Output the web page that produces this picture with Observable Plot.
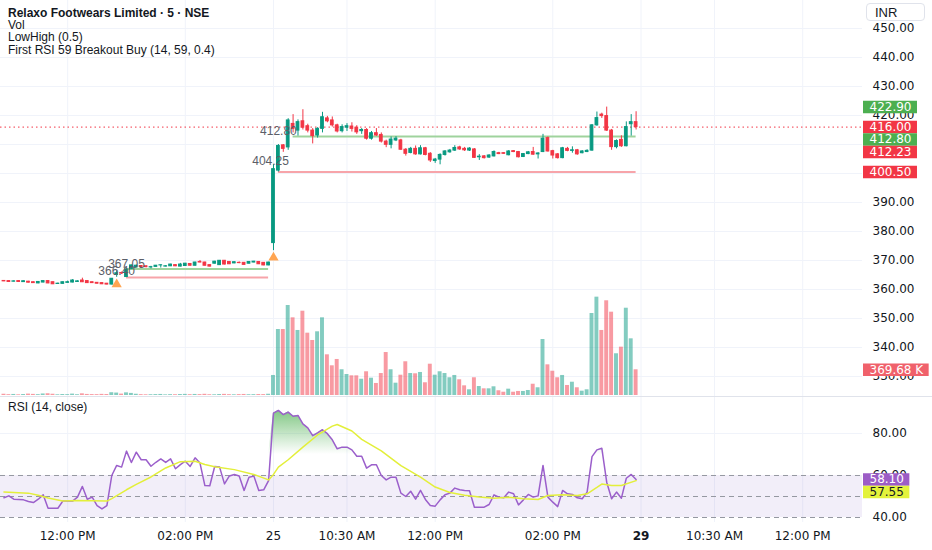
<!DOCTYPE html>
<html><head><meta charset="utf-8">
<script src="https://cdn.jsdelivr.net/npm/d3@7"></script>
<script src="https://cdn.jsdelivr.net/npm/@observablehq/plot@0.6"></script>
<style>
html,body{margin:0;padding:0;background:#fff;}
#chart{position:relative;width:932px;height:550px;overflow:hidden;background:#fff;font-family:"Liberation Sans",Arial,sans-serif;color:#131722;}
#chart .layer{position:absolute;}
.legend{position:absolute;left:8px;top:6.5px;font-size:12px;line-height:12.4px;white-space:nowrap;}
.legend .t{font-weight:bold;}
.rsiTitle{position:absolute;left:8px;top:401px;font-size:12px;line-height:12px;}
.inr{position:absolute;left:866px;top:3px;width:59px;height:18px;border:1px solid #e0e3eb;border-radius:4px;font-size:13px;line-height:18px;box-sizing:border-box;padding-left:8px;}
.sep{position:absolute;left:0;top:396px;width:932px;height:1px;background:#e0e3eb;}
</style></head><body><div id="chart"></div><script>
// ---------- DATA ----------
const day1Start = 20;      // first visible 5-min bar of day 1 (bar 0 = 09:15)
const barsPerDay = 75;
// Day 1 (24th), bars 20..74
const d1Open  = [362.95,362.9,362.7,362.9,362.55,362.7,362.5,362.1,362.4,362.9, 362.5,361.9,361.95,362.3,362.4,362.6,363.1,362.9,362.5,362.3, 362.2,362.0,361.7,365.0,365.7,364.3,367.0,367.6,368.1,368.0, 367.6,367.8,368.3,367.9,368.0,368.4,367.9,368.1,368.8,368.2, 369.5,369.3,368.4,368.9,368.4,369.9,369.5,369.0,369.2,369.2, 368.9,369.3,369.5,369.2,368.3];
const d1High  = [363.1,363.0,363.0,363.0,362.95,362.8,362.6,362.7,363.0,363.0, 362.6,362.2,362.6,362.9,363.4,363.0,363.9,363.0,362.6,362.4, 362.3,362.1,363.8,366.4,366.0,367.0,368.4,368.4,368.2,368.1, 368.0,368.3,368.5,368.2,368.7,368.5,369.0,369.0,368.9,369.4, 370.0,369.4,368.5,369.7,370.0,370.0,369.6,369.5,369.5,369.3, 369.6,369.7,369.6,369.3,369.4];
const d1Low   = [362.7,362.5,362.6,362.5,362.45,362.3,362.1,362.0,362.3,362.0, 361.7,361.8,361.9,362.2,362.3,362.5,362.4,362.1,362.1,361.9, 361.7,361.6,361.6,364.2,365.2,364.15,366.9,367.5,367.6,367.5, 367.1,367.7,367.4,367.8,367.9,367.9,367.8,368.0,368.1,368.1, 369.2,368.1,367.8,368.8,368.3,368.5,368.6,368.9,368.9,368.4, 368.8,369.2,368.6,368.2,368.2];
const d1Close = [362.8,362.6,362.8,362.6,362.85,362.35,362.2,362.6,362.9,362.1, 361.8,362.0,362.5,362.5,363.1,362.8,362.5,362.2,362.2,362.0, 361.8,361.7,363.7,365.6,365.5,366.9,368.3,368.2,367.8,367.7, 367.7,368.2,368.35,368.0,368.6,368.0,368.6,368.9,368.2,369.3, 369.3,368.2,367.9,369.6,369.9,368.6,368.7,369.4,369.1,368.5, 369.5,369.6,368.7,368.3,369.3];
// Day 2 (25th), bars 0..74
const d2Open  = [376.0,401.0,409.7,409.0,417.1,414.8,418.0,416.3,414.8,413.1, 415.4,419.0,418.3,416.6,414.6,415.8,416.2,415.8,414.6,415.0, 412.0,413.9,413.3,411.0,409.9,411.4,411.4,408.2,407.1,408.5, 406.6,408.7,406.8,404.3,404.8,406.4,407.3,407.9,409.0,408.5, 407.9,408.3,405.6,405.9,405.5,405.9,407.0,407.0,406.3,407.7, 407.4,405.7,406.7,407.4,406.6,407.4,412.2,407.7,406.6,405.3, 408.5,407.8,408.0,407.0,407.4,407.9,416.6,420.3,419.8,414.8, 409.1,411.6,409.4,417.0,417.7];
const d2High  = [403.0,410.0,410.0,418.9,420.3,418.5,422.0,417.0,415.5,415.8, 421.1,419.7,419.5,417.0,416.8,417.2,417.5,416.5,415.5,415.5, 414.5,415.5,414.0,411.5,412.6,412.7,411.8,408.6,409.0,409.5, 409.6,409.0,407.2,405.2,406.8,407.9,408.3,409.6,409.4,409.0, 408.9,408.6,406.5,406.2,406.5,407.8,407.3,407.2,407.9,407.9, 407.6,406.9,407.6,409.0,407.2,413.5,412.6,408.0,406.9,409.0, 409.0,409.2,408.3,407.9,408.2,416.9,421.2,420.8,422.9,415.2, 411.6,413.0,417.8,420.3,421.3];
const d2Low   = [373.4,400.5,407.3,408.0,414.0,412.9,415.0,414.0,410.2,412.2, 414.0,417.5,416.0,414.0,414.0,414.5,414.3,413.5,413.5,411.5, 411.5,412.8,410.5,408.9,408.5,411.0,408.0,406.0,406.8,406.3, 406.4,406.1,403.8,403.5,403.0,406.0,407.0,407.6,408.0,407.6, 407.6,405.2,404.5,405.0,405.2,405.7,406.5,406.6,406.1,407.2, 405.4,405.5,406.5,406.3,405.0,407.2,407.4,405.0,405.0,405.1, 407.5,407.0,406.3,406.8,407.2,407.7,416.3,419.0,414.5,408.0, 408.5,409.0,409.2,412.9,415.0];
const d2Close = [401.5,409.5,408.5,418.3,415.4,417.7,415.8,414.8,412.9,415.4, 419.4,418.0,416.6,414.5,416.0,416.3,415.4,414.2,415.0,412.0, 413.9,413.1,411.0,409.9,411.7,412.0,408.2,406.8,408.5,406.6, 408.7,406.4,404.5,404.8,406.4,407.6,407.9,408.8,408.3,408.0, 408.6,405.4,405.8,405.3,406.2,407.4,406.7,406.8,407.6,407.4, 405.6,406.7,407.3,406.5,406.9,412.0,407.6,406.2,405.3,408.7, 407.8,408.0,406.6,407.6,407.8,416.6,419.1,419.8,414.8,409.1, 411.2,409.4,416.0,417.7,416.0];
// Volume (thousands)
const d1Vol = [18,12,15,10,14,20,16,12,22,25, 18,10,14,12,20,11,24,15,13,12, 16,14,40,35,20,38,30,18,12,10, 11,13,15,9,12,11,14,16,12,15, 13,17,11,10,14,16,12,10,13,15, 11,12,14,13,18];
const d2Vol = [288,949,949,1294,1117,935,1212,896,791,916, 1117,585,427,518,370,302,283,283,234,341, 249,173,316,618,370,177,292,485,316,312, 331,183,450,292,341,316,255,288,226,139, 82,255,129,96,96,125,68,47,91,47, 58,58,72,162,111,805,441,349,255,288, 144,191,111,62,82,1179,1414,935,1362,1198, 600,695,1255,815,369.68];
// RSI (14, close)
const d1Rsi = [49.4,50.3,48.7,48.6,48.4,47.6,47.1,48.7,50.8,44.4, 44.4,44.4,47.8,47.8,47.8,49.7,54.8,48.7,49.7,45.7, 44.1,45.7,60,64.8,64,71.6,66.2,71.1,67.5,67.5, 64.4,66.3,67.9,66.2,67.9,63.2,65.2,66.8,64.3,68.4, 65.9,55.2,55.1,64.3,64,56,59.8,60.5,59.8,52.9, 59.2,59.7,52.9,53.2,57.6];
const d2Rsi = [89.7,91,89,90.2,88.2,88.6,84.6,82.7,79,80.3, 81.8,79.9,77.0,72.7,73.5,73.5,72.2,69.2,69.2,63.5, 65.1,65.1,60,57.9,59.2,59.2,51.6,50,52.5,48.7, 52.9,48.6,45.7,45.4,48.4,50.8,51.6,54,53.2,52.9, 52.7,44.9,44.9,44.9,46.2,50.8,49.7,49.4,52.1,51.3, 46,48.4,51,49.7,50.3,64.8,49.7,47.3,45.2,52.9, 51.3,51,49.4,48.9,52.1,69,72.2,73,56.8,48.9, 52.1,49.2,58.7,60.5,58.1];
// RSI moving average, read at these bar positions (continuous bar index)
const rsiMaBar = [20,25,27,29,32,35,41,42,45,47,50,53,56,59,61,63,67,71,74,75,76,78,81,84,87,88,91,93,97,101,105,108,111,114,117,120,123,126,129,131,134,137,139,141,142,144,146,149];
const rsiMaVal = [52.1,51.6,50.6,49.3,47.9,48.1,47.8,49.0,53.2,55.8,59.3,63.6,66.6,66.8,65.2,64.2,62.8,60.5,57.9,60.5,64,67.5,73.5,79.3,83.5,84.3,81.2,77.2,71.7,64.7,59.2,54.5,51.9,50.6,49.8,49.2,49.6,48.9,48.6,50.5,50.8,50.5,51.3,54.3,55.9,55.2,55.2,57.55];
// LowHigh levels
const levelValues = [367.05, 364.15, 412.80, 400.50];
const levelFrom   = [45, 45, 79, 76];
const levelTo     = [74, 74, 149, 149];
const levelKind   = ["high", "low", "high", "low"];
// On-chart value labels
const annoText  = ["366.40", "367.05", "404.25", "412.80"];
const annoBar   = [43, 45, 74.4, 76];
const annoPrice = [366.40, 367.05, 404.25, 412.80];
const annoKind  = ["low", "high", "low", "high"];
// Breakout buy signals (bar index)
const buyBars = [43, 75];
// Axis ticks
const priceTicks = [330,340,350,360,370,380,390,400,410,420,430,440,450];
const rsiTicks = [80, 60, 40];
const rsiLevels = [60, 50, 40];
const timeTickBars   = [33, 57, 75, 90, 108, 132, 150, 165, 183];
const timeTickLabels = ["12:00 PM","02:00 PM","25","10:30 AM","12:00 PM","02:00 PM","29","10:30 AM","12:00 PM"];
const boldTimeLabels = ["29"];
// Price-scale tags
const priceTagValues = [422.90, 416.00, 412.80, 412.23, 400.50];
const priceTagKind   = ["up", "down", "up", "down", "down"];
const volTagValue = 369.68;
const rsiTagValues = [58.10, 57.55];

// ---------- BUILD ----------
const UP = "#089981", DOWN = "#f23645";
const W = 932, AXIS_W = 70, PRICE_H = 396, RSI_H = 125, TIME_H = 28;
const xDomain = [19.29, 195.2];
const yPriceDomain = [323.1, 459.66];
const rsiDomain = [37.62, 97.14];
const volDomain = [0, 5680];
const GRID = "#f0f3fa";
const TAG_H = 12.5;

const bars = [];
d1Open.forEach((o, i) => bars.push({g: day1Start + i, o, h: d1High[i], l: d1Low[i], c: d1Close[i], v: d1Vol[i], rsi: d1Rsi[i]}));
d2Open.forEach((o, i) => bars.push({g: barsPerDay + i, o, h: d2High[i], l: d2Low[i], c: d2Close[i], v: d2Vol[i], rsi: d2Rsi[i]}));
bars.forEach(b => b.col = b.c >= b.o ? UP : DOWN);
const lastClose = bars[bars.length - 1].c;

const levels = levelValues.map((v, i) => ({v, from: levelFrom[i], to: levelTo[i], col: levelKind[i] === "high" ? "#9fd39d" : "#f7a4a9"}));
const annos = annoText.map((t, i) => ({t, g: annoBar[i], p: annoPrice[i], kind: annoKind[i]}));
const buys = buyBars.map(g => { const b = bars.find(d => d.g === g); return {g, low: b.l}; });
const maPts = rsiMaBar.map((g, i) => ({g, v: rsiMaVal[i]}));

// pixel scales mirroring the Plot scales (used only to lay out the price-scale tags)
const pyPrice = d3.scaleLinear(yPriceDomain, [PRICE_H, 0]);
const pyVol = d3.scaleLinear(volDomain, [PRICE_H - 1, 0]);
const pyRsi = d3.scaleLinear(rsiDomain, [RSI_H, 0]);

const ctx = document.createElement("canvas").getContext("2d");
ctx.font = "12px 'DejaVu Sans'";
function layoutTags(tags, scale, gap) {
  const s = tags.map(t => ({...t, py: scale(t.value)})).sort((a, b) => a.py - b.py);
  for (let i = 1; i < s.length; i++) if (s[i].py - s[i - 1].py < gap) s[i].py = s[i - 1].py + gap;
  return s.map(t => ({...t, y: scale.invert(t.py), w: ctx.measureText(t.label).width + 12}));
}
// an axis label is dropped only when the tags hide it completely
function hiddenBy(tagPys, py) {
  const top = py - 4, bot = py + 4;
  const spans = tagPys.map(p => [p - TAG_H / 2, p + TAG_H / 2]).sort((a, b) => a[0] - b[0]);
  let cur = top;
  for (const [a, b] of spans) { if (a <= cur && b >= cur) cur = Math.max(cur, b); }
  return cur >= bot;
}

const pTags = layoutTags(priceTagValues.map((v, i) => ({value: v, label: v.toFixed(2), bg: priceTagKind[i] === "up" ? "#4caf50" : DOWN, fg: "#ffffff"})), pyPrice, TAG_H);
const vTags = layoutTags([{value: volTagValue, label: volTagValue.toFixed(2) + " K", bg: "#f0616b", fg: "#ffffff"}], pyVol, TAG_H);
const rTags = layoutTags([{value: rsiTagValues[0], label: rsiTagValues[0].toFixed(2), bg: "#9c5cc6", fg: "#ffffff"}, {value: rsiTagValues[1], label: rsiTagValues[1].toFixed(2), bg: "#e3f23b", fg: "#131722"}], pyRsi, TAG_H);
const priceTagPys = pTags.concat(vTags).map(t => t.py);
const visiblePriceTicks = priceTicks.filter(t => !hiddenBy(priceTagPys, pyPrice(t)));
const visibleRsiTicks = rsiTicks.filter(t => !hiddenBy(rTags.map(d => d.py), pyRsi(t)));

const baseStyle = {fontFamily: "DejaVu Sans", fontSize: "12px", color: "#131722", background: "transparent", overflow: "visible"};
const chart = document.getElementById("chart");
function place(el, left, top) { el.classList.add("layer"); el.style.left = left + "px"; el.style.top = top + "px"; chart.appendChild(el); return el; }

// Price pane
const pricePlot = Plot.plot({
  width: W, height: PRICE_H, marginLeft: 0, marginRight: AXIS_W, marginTop: 0, marginBottom: 0,
  x: {domain: xDomain, axis: null}, y: {domain: yPriceDomain, axis: null}, color: {type: "identity"},
  style: baseStyle,
  marks: [
    Plot.gridX(timeTickBars, {stroke: GRID, strokeOpacity: 1}),
    Plot.gridY(priceTicks, {stroke: GRID, strokeOpacity: 1}),
    Plot.axisY(visiblePriceTicks, {anchor: "right", label: null, tickSize: 0, tickPadding: 10, tickFormat: d => d.toFixed(2), fill: "#131722"}),
    Plot.ruleY(levels, {y: "v", x1: "from", x2: "to", stroke: "col", strokeWidth: 2}),
    Plot.ruleY([lastClose], {stroke: DOWN, strokeDasharray: "1.5,3", strokeWidth: 1}),
    Plot.ruleX(bars, {x: "g", y1: "l", y2: "h", stroke: "col", strokeWidth: 1}),
    Plot.rect(bars, {x1: d => d.g - 0.28, x2: d => d.g + 0.28, y1: "o", y2: "c", fill: "col", stroke: "col", strokeWidth: 1}),
    Plot.dot(buys, {x: "g", y: "low", dy: 7, symbol: "triangle", r: 3.8, fill: "#ffa552", stroke: "none"}),
    Plot.text(annos.filter(d => d.kind === "low"), {x: "g", y: "p", text: "t", fill: "#5b5e68", fontSize: 12, fontFamily: "Liberation Sans"}),
    Plot.text(annos.filter(d => d.kind === "high"), {x: "g", y: "p", text: "t", dy: -5, fill: "#5b5e68", fontSize: 12, fontFamily: "Liberation Sans"})
  ]
});
place(pricePlot, 0, 0);

// Volume overlay
const volPlot = Plot.plot({
  width: W, height: PRICE_H, marginLeft: 0, marginRight: AXIS_W, marginTop: 0, marginBottom: 1,
  x: {domain: xDomain, axis: null}, y: {domain: volDomain, axis: null}, color: {type: "identity"},
  style: baseStyle,
  marks: [
    Plot.rectY(bars, {x1: d => d.g - 0.4, x2: d => d.g + 0.4, y: "v", fill: "col", fillOpacity: 0.5})
  ]
});
place(volPlot, 0, 0);

// RSI pane + time axis
const gradDefs = () => {
  const defs = document.createElementNS("http://www.w3.org/2000/svg", "defs");
  defs.innerHTML = '<linearGradient id="rsiGrad" x1="0" y1="0" x2="0" y2="1"><stop offset="0" stop-color="#4caf50" stop-opacity="0.7"/><stop offset="1" stop-color="#4caf50" stop-opacity="0"/></linearGradient>';
  return defs;
};
const labelOf = g => timeTickLabels[timeTickBars.indexOf(g)];
const rsiPlot = Plot.plot({
  width: W, height: RSI_H + TIME_H, marginLeft: 0, marginRight: AXIS_W, marginTop: 0, marginBottom: TIME_H,
  x: {domain: xDomain, axis: null}, y: {domain: rsiDomain, axis: null}, color: {type: "identity"},
  style: baseStyle,
  marks: [
    gradDefs,
    Plot.gridX(timeTickBars, {stroke: GRID, strokeOpacity: 1}),
    Plot.gridY([80], {stroke: GRID, strokeOpacity: 1}),
    Plot.rect([0], {x1: () => xDomain[0], x2: () => xDomain[1], y1: () => 40, y2: () => 60, fill: "#7e57c2", fillOpacity: 0.1}),
    Plot.ruleY(rsiLevels, {stroke: "#9598a1", strokeDasharray: "5,4", strokeWidth: 1}),
    Plot.areaY(bars, {x: "g", y1: () => 70, y2: d => Math.max(70, d.rsi), fill: "url(#rsiGrad)"}),
    Plot.line(bars, {x: "g", y: "rsi", stroke: "#9b5fcb", strokeWidth: 1.5}),
    Plot.line(maPts, {x: "g", y: "v", stroke: "#e3ef3a", strokeWidth: 1.5}),
    Plot.axisY(visibleRsiTicks, {anchor: "right", label: null, tickSize: 0, tickPadding: 10, tickFormat: d => d.toFixed(2), fill: "#131722"}),
    Plot.axisX(timeTickBars.filter(g => !boldTimeLabels.includes(labelOf(g))), {anchor: "bottom", label: null, tickSize: 0, tickPadding: 9, tickFormat: labelOf, fill: "#131722"}),
    Plot.axisX(timeTickBars.filter(g => boldTimeLabels.includes(labelOf(g))), {anchor: "bottom", label: null, tickSize: 0, tickPadding: 9, tickFormat: labelOf, fill: "#131722", fontWeight: "bold"})
  ]
});
place(rsiPlot, 0, 397);

// separator
const sep = document.createElement("div"); sep.className = "sep"; chart.appendChild(sep);

// price-scale tags
function tagPlot(tags, yDomain, height, marginBottom) {
  return Plot.plot({
    width: AXIS_W, height, marginLeft: 0, marginRight: 0, marginTop: 0, marginBottom,
    x: {domain: [0, AXIS_W], axis: null}, y: {domain: yDomain, axis: null}, color: {type: "identity"},
    style: baseStyle,
    marks: [
      Plot.ruleY(tags, {y: "y", x1: () => 1, x2: d => 1 + d.w, stroke: "bg", strokeWidth: TAG_H}),
      Plot.text(tags, {y: "y", x: () => 7, text: "label", fill: "fg", textAnchor: "start", fontSize: 12})
    ]
  });
}
place(tagPlot(pTags, yPriceDomain, PRICE_H, 0), W - AXIS_W, 0);
place(tagPlot(vTags, volDomain, PRICE_H, 1), W - AXIS_W, 0);
place(tagPlot(rTags, rsiDomain, RSI_H + TIME_H, TIME_H), W - AXIS_W, 397);

// legend & labels
const legend = document.createElement("div"); legend.className = "legend";
legend.innerHTML = '<div class="t">Relaxo Footwears Limited · 5 · NSE</div><div>Vol</div><div>LowHigh (0.5)</div><div>First RSI 59 Breakout Buy (14, 59, 0.4)</div>';
chart.appendChild(legend);
const rsiTitle = document.createElement("div"); rsiTitle.className = "rsiTitle"; rsiTitle.textContent = "RSI (14, close)"; chart.appendChild(rsiTitle);
const inr = document.createElement("div"); inr.className = "inr"; inr.textContent = "INR"; chart.appendChild(inr);
</script></body></html>
